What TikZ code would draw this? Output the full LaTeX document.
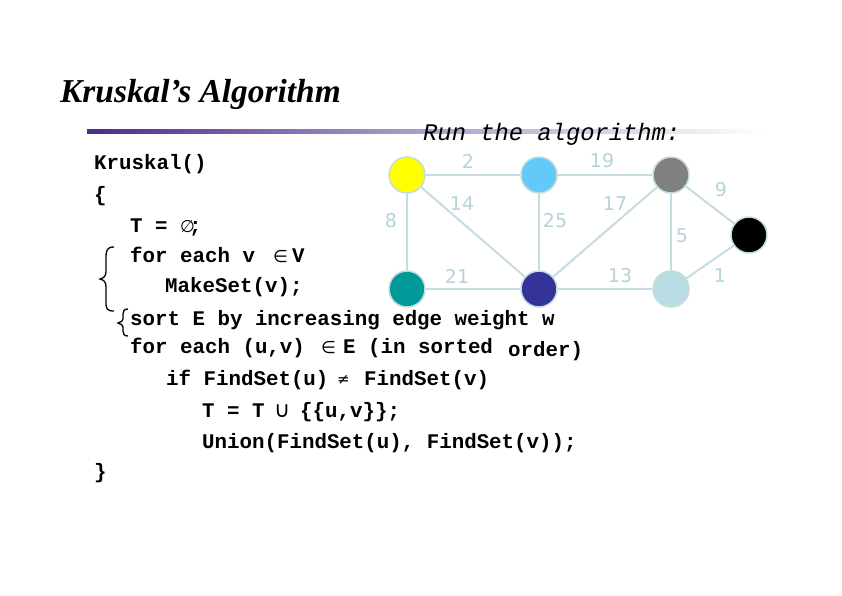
\documentclass[tikz,border=0pt]{standalone}
\usepackage{fontspec}
\setmainfont{Liberation Serif}
\newfontfamily\codefamily{Liberation Mono}
\newfontfamily\labfamily{DejaVu Sans}
\definecolor{edgecol}{HTML}{C5DDE2}
\definecolor{labcol}{HTML}{B5D3DA}
\definecolor{ringcol}{HTML}{C3DDDD}
\definecolor{purp}{HTML}{4A2C8C}
\definecolor{cYellow}{HTML}{FFFF00}
\definecolor{cLBlue}{HTML}{62C9F8}
\definecolor{cGray}{HTML}{808080}
\definecolor{cTeal}{HTML}{009999}
\definecolor{cDBlue}{HTML}{333399}
\definecolor{cLCyan}{HTML}{B9DDE2}
\tikzset{
  vert/.style={circle, draw=ringcol, line width=1.5pt, minimum size=36pt, inner sep=0pt},
  wedge/.style={draw=edgecol, line width=2pt},
  wlab/.style={text=labcol, font=\labfamily\fontsize{19}{19}\selectfont, inner sep=0pt},
  code/.style={anchor=base west, inner sep=0pt, font=\codefamily\bfseries\fontsize{20.8}{24}\selectfont},
  symb/.style={anchor=base west, inner sep=0pt},
  bracepath/.style={draw=black, line width=1.3pt}
}
\begin{document}
\begin{tikzpicture}[x=1pt,y=-1pt]
\useasboundingbox[fill=white] (0,0) rectangle (842,595);
% title
\node[anchor=base west, inner sep=0pt, font=\bfseries\itshape\fontsize{33.4}{36}\selectfont] (title) at (60,102) {Kruskal’s Algorithm};
% gradient rule
\shade[left color=purp, right color=white, middle color=purp!45] (87,129.3) rectangle (765,133);
\node[anchor=base west, inner sep=0pt, font=\codefamily\itshape\fontsize{23.8}{26}\selectfont] (run) at (423,140) {Run the algorithm:};
% vertices
\node[vert, fill=cYellow] (Y) at (407,175) {};
\node[vert, fill=cLBlue] (LB) at (539,175) {};
\node[vert, fill=cGray] (G) at (671,175) {};
\node[vert, fill=black] (K) at (749,235) {};
\node[vert, fill=cTeal] (T) at (407,289) {};
\node[vert, fill=cDBlue] (DB) at (539,289) {};
\node[vert, fill=cLCyan] (LC) at (671,289) {};
% edges
\draw[wedge] (Y) -- (LB);
\draw[wedge] (LB) -- (G);
\draw[wedge] (Y) -- (DB);
\draw[wedge] (Y) -- (T);
\draw[wedge] (LB) -- (DB);
\draw[wedge] (G) -- (DB);
\draw[wedge] (G) -- (K);
\draw[wedge] (G) -- (LC);
\draw[wedge] (T) -- (DB);
\draw[wedge] (DB) -- (LC);
\draw[wedge] (K) -- (LC);
% edge labels
\node[wlab] (l2) at (468,161) {2};
\node[wlab] (l19) at (602,161) {19};
\node[wlab] (l14) at (462,204) {14};
\node[wlab] (l8) at (391,221) {8};
\node[wlab] (l25) at (555,221) {25};
\node[wlab] (l17) at (615,204) {17};
\node[wlab] (l9) at (721,190) {9};
\node[wlab] (l5) at (682,236) {5};
\node[wlab] (l21) at (457,276) {21};
\node[wlab] (l13) at (620,276) {13};
\node[wlab] (l1) at (720,276) {1};
% code
\node[code] (c1) at (94,169) {Kruskal()};
\node[code] (c2) at (94,201) {\{};
\node[code] (c3a) at (130,232) {T =};
\node[symb, font=\labfamily\itshape\fontsize{17}{17}\selectfont] (c3b) at (180,232) {∅};
\node[code] (c3c) at (189,232) {;};
\node[code] (c4a) at (130,262) {for each v};
\node[symb, font=\labfamily\fontsize{17}{17}\selectfont] (c4c) at (273,262) {∈};
\node[code] (c4d) at (292,262) {V};
\node[code] (c5) at (165,292) {MakeSet(v);};
\node[code] (c6) at (130,325) {sort E by increasing edge weight w};
\node[code] (c7a) at (130,353) {for each (u,v)};
\node[symb, font=\labfamily\fontsize{17}{17}\selectfont] (c7b) at (321,353) {∈};
\node[code] (c7c) at (343,353) {E (in sorted};
\node[code] (c7d) at (508,356) {order)};
\node[code] (c8a) at (166,385) {if FindSet(u)};
\node[symb, font=\labfamily\fontsize{15}{15}\selectfont] (c8b) at (337,384) {≠};
\node[code] (c8c) at (364,385) {FindSet(v)};
\node[code] (c9a) at (202,417) {T = T};
\node[symb, font=\labfamily\fontsize{22}{22}\selectfont] (c9b) at (274,417) {∪};
\node[code] (c9c) at (300,417) {\{\{u,v\}\};};
\node[code] (c10) at (202,448) {Union(FindSet(u), FindSet(v));};
\node[code] (c11) at (94,478) {\}};
% braces
\draw[bracepath] (114,247) .. controls (107,247) and (106,250) .. (106,258) -- (106,271)
  .. controls (106,276) and (104,278) .. (100,279)
  .. controls (104,280) and (106,282) .. (106,287) -- (106,302)
  .. controls (106,309) and (107,311) .. (114,311);
\draw[bracepath] (128,309) .. controls (124,309) and (123,311) .. (123,314) -- (123,319)
  .. controls (123,321) and (121,322) .. (118,323)
  .. controls (121,324) and (123,325) .. (123,327) -- (123,331)
  .. controls (123,334) and (124,336) .. (128,336);
\end{tikzpicture}
\end{document}
